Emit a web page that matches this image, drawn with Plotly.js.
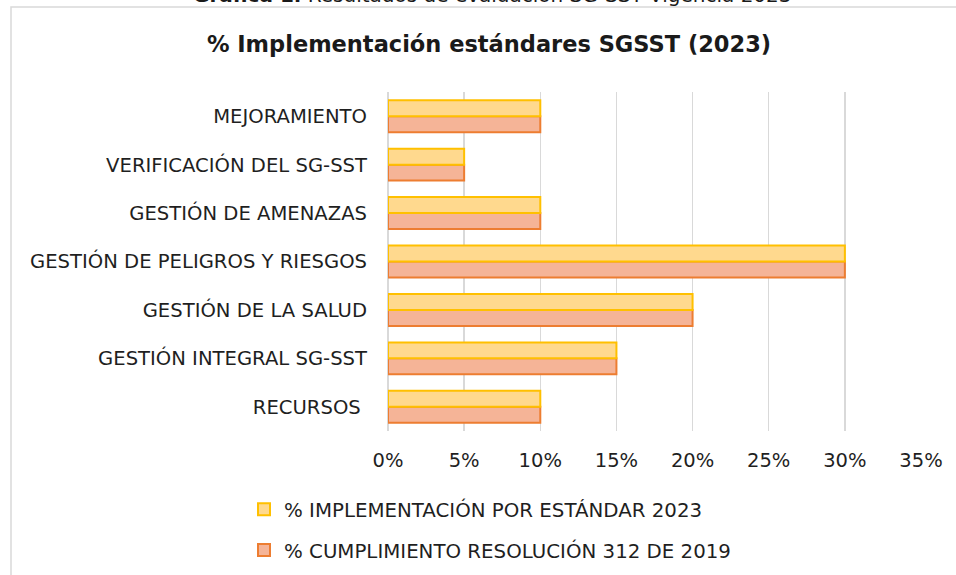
<!DOCTYPE html>
<html>
<head>
<meta charset="utf-8">
<script src="https://cdn.plot.ly/plotly-3.0.1.min.js"></script>
<style>
  html, body { margin: 0; padding: 0; background: #ffffff; }
  #chart { width: 956px; height: 575px; }
</style>
</head>
<body>
<div id="chart"></div>
<script>
// Categories listed bottom-to-top (Plotly draws the first category at the bottom)
const categories = [
  "RECURSOS\u00a0",
  "GESTIÓN INTEGRAL SG-SST",
  "GESTIÓN DE LA SALUD",
  "GESTIÓN DE PELIGROS Y RIESGOS",
  "GESTIÓN DE AMENAZAS",
  "VERIFICACIÓN DEL SG-SST",
  "MEJORAMIENTO"
];
const implementacion2023 = [0.10, 0.15, 0.20, 0.30, 0.10, 0.05, 0.10];
const cumplimiento312 = [0.10, 0.15, 0.20, 0.30, 0.10, 0.05, 0.10];
const seriesNames = ["% IMPLEMENTACIÓN POR ESTÁNDAR 2023", "% CUMPLIMIENTO RESOLUCIÓN 312 DE 2019"];
const xTicks = [0, 0.05, 0.10, 0.15, 0.20, 0.25, 0.30, 0.35];
const chartTitle = "% Implementación estándares SGSST (2023)";
const captionBold = "Gráfica 1.";
const captionRest = " Resultados de evaluación SG-SST Vigencia 2023";

const FONT = "DejaVu Sans, Noto Sans, sans-serif";
const TXT = "#1f1f1f";

const data = [
  {
    type: "bar", orientation: "h",
    name: seriesNames[1],
    y: categories, x: cumplimiento312,
    marker: { color: "#F5B497", line: { color: "#ED7D31", width: 2 } },
    legendrank: 2, legendgroup: "b",
    hoverinfo: "x+y"
  },
  {
    type: "bar", orientation: "h",
    name: seriesNames[0],
    y: categories, x: implementacion2023,
    marker: { color: "#FFD98E", line: { color: "#FFC000", width: 2 } },
    legendrank: 1, legendgroup: "a",
    hoverinfo: "x+y"
  }
];

const L = 388, R = 35, T = 92, B = 144;
const W = 956, H = 575;
const pw = W - L - R, ph = H - T - B;
function px2x(p) { return (p - L) / pw; }
function px2y(p) { return (H - B - p) / ph; }

const layout = {
  width: W, height: H,
  margin: { l: L, r: R, t: T, b: B, pad: 0, autoexpand: false },
  paper_bgcolor: "#ffffff",
  plot_bgcolor: "#ffffff",
  font: { family: FONT, color: TXT, size: 20 },
  barmode: "group",
  bargap: 0.34,
  bargroupgap: 0,
  title: {
    text: "<b>" + chartTitle + "</b>",
    font: { family: FONT, size: 22.5, color: "#1a1a1a" },
    x: 0.5115, xanchor: "center",
    y: 1 - 44 / H, yanchor: "middle"
  },
  xaxis: {
    range: [0, 0.35],
    tickvals: xTicks,
    tickformat: ".0%",
    showgrid: true, gridcolor: "#D9D9D9", gridwidth: 1.5,
    zeroline: true, zerolinecolor: "#D9D9D9", zerolinewidth: 1.5,
    showline: false, ticks: "",
    ticklabelstandoff: 15,
    tickfont: { family: FONT, size: 19.5, color: TXT },
    fixedrange: true, automargin: false
  },
  yaxis: {
    type: "category",
    showgrid: false, zeroline: false, showline: false, ticks: "",
    ticklabelstandoff: 20,
    tickfont: { family: FONT, size: 19.6, color: TXT },
    fixedrange: true, automargin: false
  },
  showlegend: true,
  legend: {
    orientation: "v",
    x: px2x(244), xanchor: "left",
    y: px2y(490), yanchor: "top",
    font: { family: FONT, size: 19.8, color: TXT },
    tracegroupgap: 12,
    bgcolor: "rgba(0,0,0,0)"
  },
  shapes: [
    {
      type: "rect", xref: "paper", yref: "paper",
      x0: px2x(11), x1: px2x(970), y0: px2y(600), y1: px2y(7),
      line: { color: "#D9D9D9", width: 1.5 },
      fillcolor: "rgba(0,0,0,0)", layer: "below"
    }
  ],
  annotations: [
    {
      xref: "paper", yref: "paper",
      x: px2x(492), xanchor: "center",
      y: px2y(9), yanchor: "bottom",
      text: "<b>" + captionBold + "</b>" + captionRest,
      showarrow: false,
      font: { family: FONT, size: 20, color: "#1a1a1a" }
    }
  ]
};

Plotly.newPlot("chart", data, layout, { displayModeBar: false, staticPlot: true });
</script>
</body>
</html>
